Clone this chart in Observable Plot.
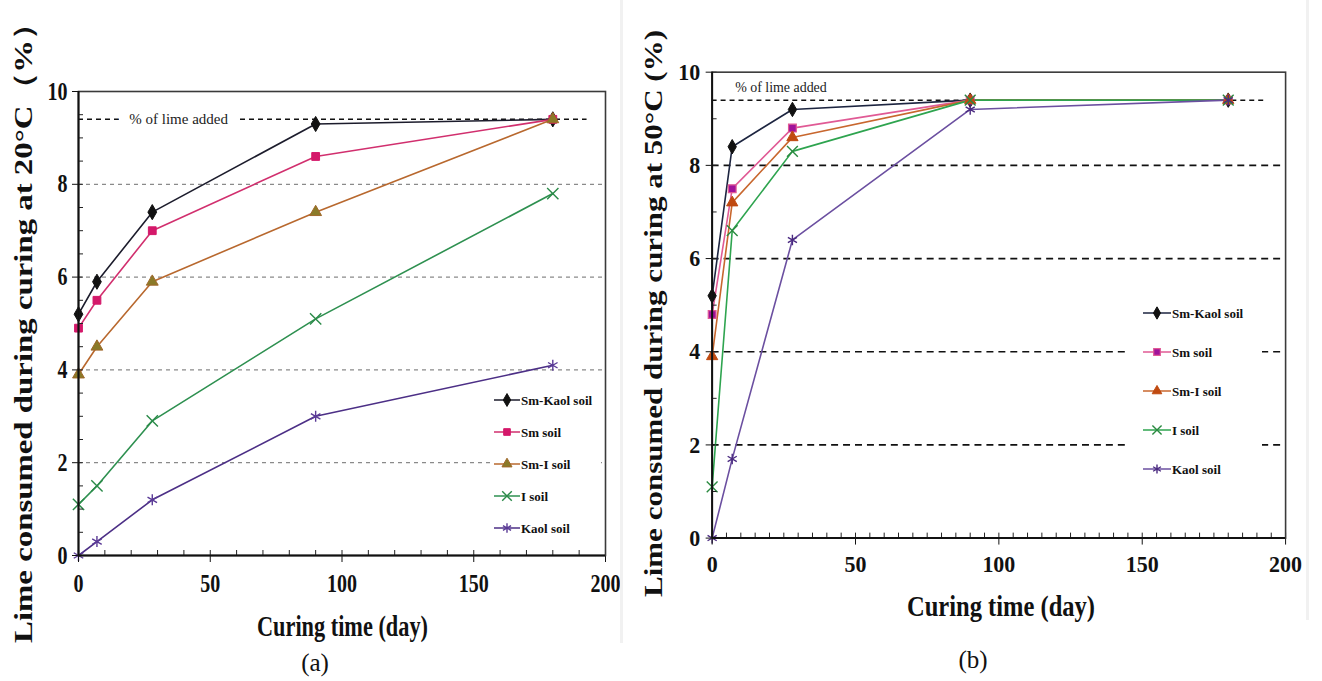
<!DOCTYPE html>
<html>
<head>
<meta charset="utf-8">
<script src="https://cdn.jsdelivr.net/npm/d3@7"></script>
<script src="https://cdn.jsdelivr.net/npm/@observablehq/plot@0.6"></script>
<style>
  html, body { margin: 0; padding: 0; background: #fff; }
  #fig { position: relative; width: 1322px; height: 681px; overflow: hidden; background: #fff; font-family: "Liberation Serif", "Times New Roman", serif; }
  .panel { position: absolute; top: 0; overflow: hidden; }
  .panel svg text { font-family: "Liberation Serif", serif; }
</style>
</head>
<body>
<div id="fig"></div>
<script>
// ---------- data ----------
const days = [0, 7, 28, 90, 180];
const seriesNames = ["Sm-Kaol soil", "Sm soil", "Sm-I soil", "I soil", "Kaol soil"];

// (a) curing at 20°C
const a_SmKaol = [5.2, 5.9, 7.4, 9.3, 9.4];
const a_Sm     = [4.9, 5.5, 7.0, 8.6, 9.4];
const a_SmI    = [3.9, 4.5, 5.9, 7.4, 9.4];
const a_I      = [1.1, 1.5, 2.9, 5.1, 7.8];
const a_Kaol   = [0.0, 0.3, 1.2, 3.0, 4.1];

// (b) curing at 50°C
const b_SmKaol = [5.2, 8.4, 9.2, 9.4, 9.4];
const b_Sm     = [4.8, 7.5, 8.8, 9.4, 9.4];
const b_SmI    = [3.9, 7.2, 8.6, 9.4, 9.4];
const b_I      = [1.1, 6.6, 8.3, 9.4, 9.4];
const b_Kaol   = [0.0, 1.7, 6.4, 9.2, 9.4];

const limeAdded = 9.4;
const limeLabel = "% of lime added";
const gridY = [2, 4, 6, 8];
const xTicks = [0, 50, 100, 150, 200];
const yTicks = [0, 2, 4, 6, 8, 10];

const yTitleA = "Lime consumed during curing at  20°C（%）";
const yTitleB = "Lime consumed during curing at  50°C (%)";
const xTitle = "Curing time (day)";
const panelTagA = "(a)";
const panelTagB = "(b)";

// ---------- styles ----------
const styleA = [
  {symbol: "diamond",  line: "#1c1c2c", fill: "#111111", stroke: "#111111", r: 4.6, sw: 1},
  {symbol: "square",   line: "#d12f6e", fill: "#d4186a", stroke: "#d4186a", r: 4.4, sw: 1},
  {symbol: "triangle", line: "#b8682e", fill: "#8a7a28", stroke: "#a0682a", r: 4.4, sw: 1},
  {symbol: "times",    line: "#2e9050", fill: "none",    stroke: "#2a8a48", r: 5.2, sw: 1.4},
  {symbol: "asterisk", line: "#4c2f86", fill: "none",    stroke: "#5a3a96", r: 5.2, sw: 1.4}
];
const styleB = [
  {symbol: "diamond",  line: "#1d2540", fill: "#111111", stroke: "#111111", r: 4.4, sw: 1},
  {symbol: "square",   line: "#e05a95", fill: "#a0129a", stroke: "#e05a95", r: 4.4, sw: 1.2},
  {symbol: "triangle", line: "#c8672e", fill: "#c04a10", stroke: "#c04a10", r: 4.2, sw: 1},
  {symbol: "times",    line: "#2ea44f", fill: "none",    stroke: "#2a8a40", r: 5, sw: 1.4},
  {symbol: "asterisk", line: "#6b4fa0", fill: "none",    stroke: "#4a2a80", r: 5, sw: 1.4}
];

function makePanel(vals, st, o) {
  const rows = seriesNames.flatMap((name, i) => days.map((day, j) => ({name, day, value: vals[i][j]})));
  const marks = [
    Plot.ruleY(gridY, {stroke: o.gridStroke, strokeWidth: o.gridWidth, strokeDasharray: o.gridDash}),
    Plot.ruleY([limeAdded], {x1: 0, x2: o.limeEnd, stroke: "#111", strokeWidth: 1.5, strokeDasharray: "5,4"}),
    Plot.text([limeLabel], {
      x: o.limeTextX, y: o.limeTextY, text: d => d,
      fontFamily: "Liberation Serif", fontSize: o.limeFont, fill: "#222",
      stroke: "white", strokeWidth: o.haloWidth, paintOrder: "stroke"
    })
  ];
  seriesNames.forEach((name, i) => {
    marks.push(Plot.line(rows.filter(r => r.name === name), {x: "day", y: "value", stroke: st[i].line, strokeWidth: 1.6}));
  });
  seriesNames.forEach((name, i) => {
    marks.push(Plot.dot(rows.filter(r => r.name === name), {
      x: "day", y: "value", symbol: st[i].symbol, r: st[i].r,
      fill: st[i].fill, stroke: st[i].stroke, strokeWidth: st[i].sw
    }));
  });
  marks.push(
    Plot.axisX(o.minorX, {tickSize: -5, fill: "none", color: "#222", label: null}),
    Plot.axisY(o.minorY, {tickSize: -5, fill: "none", color: "#222", label: null}),
    Plot.axisX(xTicks, {tickSize: 7, tickPadding: o.xPad, color: "#111", label: null,
      fontFamily: "Liberation Serif", fontWeight: "bold", fontSize: o.tickFont}),
    Plot.axisY(yTicks, {tickSize: 6, tickPadding: o.yPad, color: "#111", label: null,
      fontFamily: "Liberation Serif", fontWeight: "bold", fontSize: o.tickFont}),
    Plot.frame({stroke: "#3a3a3a", strokeWidth: 1.6}),
    Plot.ruleX([0], {stroke: "#111", strokeWidth: 2}),
    Plot.ruleY([0], {stroke: "#111", strokeWidth: 2})
  );
  const svg = Plot.plot({
    width: o.width, height: 681,
    marginLeft: o.ml, marginRight: o.mr, marginTop: o.mt, marginBottom: o.mb,
    x: {domain: [0, 200]},
    y: {domain: [0, 10]},
    style: {background: "transparent", overflow: "visible", fontFamily: "Liberation Serif"},
    marks
  });
  svg.querySelectorAll('g[aria-label="x-axis tick label"] text, g[aria-label="y-axis tick label"] text').forEach(t => {
    const tr = t.getAttribute("transform") || "";
    t.setAttribute("transform", tr + ` scale(${o.tickScale},1)`);
  });
  return svg;
}

const fig = document.getElementById("fig");

// Panel (a)
const divA = document.createElement("div");
divA.className = "panel";
divA.style.left = "0px"; divA.style.width = "640px"; divA.style.height = "681px";
divA.appendChild(makePanel([a_SmKaol, a_Sm, a_SmI, a_I, a_Kaol], styleA, {
  width: 640, ml: 78, mr: 35, mt: 91, mb: 126,
  gridStroke: "#8a8a8a", gridWidth: 1.3, gridDash: "4,4",
  limeEnd: 193, limeTextX: 38, limeTextY: limeAdded, limeFont: 15, haloWidth: 22,
  minorX: d3.range(0, 201, 10), minorY: d3.range(0, 10.01, 0.5),
  xPad: 12, yPad: 5, tickFont: 25, tickScale: 0.8
}));
fig.appendChild(divA);

// Panel (b)
const divB = document.createElement("div");
divB.className = "panel";
divB.style.left = "630px"; divB.style.width = "677px"; divB.style.height = "681px";
divB.appendChild(makePanel([b_SmKaol, b_Sm, b_SmI, b_I, b_Kaol], styleB, {
  width: 680, ml: 82, mr: 22, mt: 72, mb: 141,
  gridStroke: "#111", gridWidth: 1.7, gridDash: "7,5",
  limeEnd: 193, limeTextX: 24, limeTextY: 9.67, limeFont: 14, haloWidth: 0,
  minorX: d3.range(0, 201, 5), minorY: d3.range(0, 10.01, 1),
  xPad: 10, yPad: 6, tickFont: 24, tickScale: 0.92
}));
fig.appendChild(divB);

// ---------- overlay: titles, legends ----------
const ov = d3.select(fig).append("svg")
  .attr("width", 1322).attr("height", 681)
  .style("position", "absolute").style("left", "0px").style("top", "0px")
  .style("font-family", "'Liberation Serif', serif");

// faint image edges
ov.append("rect").attr("x", 620).attr("y", 0).attr("width", 3).attr("height", 643).attr("fill", "#f1f1f1");
ov.append("rect").attr("x", 1306).attr("y", 0).attr("width", 3).attr("height", 620).attr("fill", "#f1f1f1");

function yTitle(text, x, y0, len) {
  ov.append("text").text(text)
    .attr("transform", `translate(${x},${y0}) rotate(-90)`)
    .attr("font-size", 26).attr("font-weight", "bold").attr("fill", "#111")
    .attr("textLength", len).attr("lengthAdjust", "spacingAndGlyphs");
}
yTitle(yTitleA, 32, 643, 636);
yTitle(yTitleB, 662, 597, 567);

function xTitleAt(x, y, len) {
  ov.append("text").text(xTitle).attr("x", x).attr("y", y)
    .attr("font-size", 30).attr("font-weight", "bold").attr("fill", "#111")
    .attr("textLength", len).attr("lengthAdjust", "spacingAndGlyphs");
}
xTitleAt(257, 636, 171);
xTitleAt(907, 616, 188);

ov.append("text").text(panelTagA).attr("x", 315).attr("y", 671).attr("text-anchor", "middle").attr("font-size", 25).attr("fill", "#111");
ov.append("text").text(panelTagB).attr("x", 973).attr("y", 668).attr("text-anchor", "middle").attr("font-size", 25).attr("fill", "#111");

const symbolTypes = {diamond: d3.symbolDiamond, square: d3.symbolSquare, triangle: d3.symbolTriangle, times: d3.symbolTimes, asterisk: d3.symbolAsterisk};

function legend(st, o) {
  ov.append("rect").attr("x", o.bx).attr("y", o.by).attr("width", o.bw).attr("height", o.bh).attr("fill", "#fff");
  seriesNames.forEach((name, i) => {
    const y = o.y0 + i * o.dy;
    ov.append("line").attr("x1", o.x1).attr("x2", o.x2).attr("y1", y).attr("y2", y)
      .attr("stroke", st[i].line).attr("stroke-width", 1.5);
    const r = st[i].r * 0.85;
    ov.append("path").attr("d", d3.symbol(symbolTypes[st[i].symbol], Math.PI * r * r)())
      .attr("transform", `translate(${(o.x1 + o.x2) / 2},${y})`)
      .attr("fill", st[i].fill).attr("stroke", st[i].stroke).attr("stroke-width", st[i].sw);
    ov.append("text").text(name).attr("x", o.x2 + 1).attr("y", y + 4.5)
      .attr("font-size", 13).attr("font-weight", "bold").attr("fill", "#111");
  });
}
legend(styleA, {bx: 491, by: 385, bw: 110, bh: 155, x1: 494, x2: 520, y0: 400, dy: 32});
legend(styleB, {bx: 1125, by: 292, bw: 137, bh: 195, x1: 1143, x2: 1171, y0: 313, dy: 39});
</script>
</body>
</html>
